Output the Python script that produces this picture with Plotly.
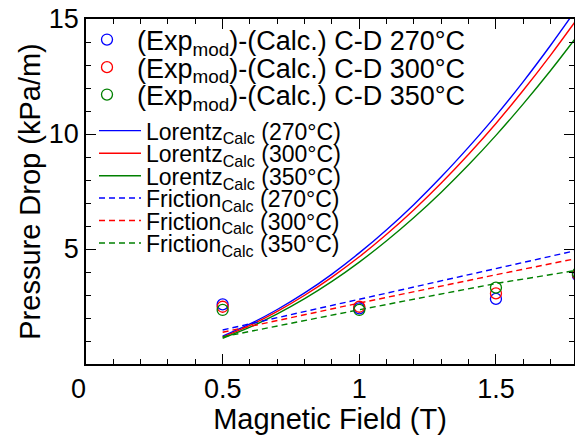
import plotly.graph_objects as go

# ---------------- data ----------------
temps = ["270°C", "300°C", "350°C"]
colors = ["#0000FF", "#FF0000", "#008000"]

# experimental points (Exp_mod - Calc.), C-D
b_exp = [0.5, 1.0, 1.5, 1.8]
exp_270 = [2.59, 2.42, 2.83, 3.85]
exp_300 = [2.49, 2.49, 3.07, 3.90]
exp_350 = [2.35, 2.35, 3.32, 3.95]

# Lorentz (calculated) curves
b_calc = [0.5, 0.6, 0.7, 0.8, 0.9, 1.0, 1.1, 1.2, 1.3, 1.4, 1.5, 1.6, 1.7, 1.8]
lor_270 = [1.21, 1.74, 2.37, 3.09, 3.91, 4.83, 5.84, 6.94, 8.14, 9.43, 10.80, 12.28, 13.86, 15.53]
lor_300 = [1.17, 1.68, 2.29, 2.99, 3.78, 4.66, 5.64, 6.71, 7.87, 9.12, 10.46, 11.90, 13.43, 15.05]
lor_350 = [1.12, 1.60, 2.18, 2.84, 3.59, 4.43, 5.36, 6.37, 7.47, 8.66, 9.94, 11.31, 12.76, 14.30]

# Friction (calculated) lines
b_fric = [0.5, 1.0, 1.5, 1.8]
fric_270 = [1.48, 2.81, 4.15, 4.95]
fric_300 = [1.38, 2.65, 3.88, 4.60]
fric_350 = [1.18, 2.36, 3.50, 4.08]

x_ticks = [0, 0.5, 1, 1.5]
x_ticktext = ["0\u00a0\u00a0", "0.5", "1", "1.5"]
y_ticks = [5, 10, 15]

FONT = "Arial, Liberation Sans, sans-serif"

# ---------------- figure ----------------
W, H = 575, 435
ML, MR, MT, MB = 86, 1, 19, 71
PW, PH = W - ML - MR, H - MT - MB

def px_x(px):
    return (px - ML) / PW

def px_y(py):
    return (H - MB - py) / PH

fig = go.Figure()

legend_layout = {}
leg_idx = [0]

def new_legend(cx_left, cy, size, itemwidth):
    leg_idx[0] += 1
    name = "legend" if leg_idx[0] == 1 else f"legend{leg_idx[0]}"
    legend_layout[name] = dict(
        x=px_x(cx_left), y=px_y(cy), xanchor="left", yanchor="middle",
        bgcolor="rgba(0,0,0,0)", borderwidth=0, itemwidth=itemwidth,
        font=dict(family=FONT, size=size, color="black"),
        itemclick=False, itemdoubleclick=False,
    )
    return name

lor = [lor_270, lor_300, lor_350]
fric = [fric_270, fric_300, fric_350]
exps = [exp_270, exp_300, exp_350]

marker_rows = [40, 67.6, 95]
line_rows = [130.7, 153.3, 175.8, 198.0, 220.6, 243.0]

for i in range(3):
    lg = new_legend(77, marker_rows[i], 27, 50)
    fig.add_trace(go.Scatter(
        x=b_exp, y=exps[i], mode="markers",
        marker=dict(symbol="circle-open", size=11, color=colors[i],
                    line=dict(width=1.3, color=colors[i])),
        name=f"(Exp<sub>mod</sub>)-(Calc.) C-D {temps[i]}",
        legend=lg, cliponaxis=True,
    ))

for i in range(3):
    lg = new_legend(94, line_rows[i], 23, 42)
    fig.add_trace(go.Scatter(
        x=b_calc, y=lor[i], mode="lines", line_shape="spline",
        line=dict(color=colors[i], width=1.4),
        name=f"Lorentz<sub>Calc</sub> ({temps[i]})", legend=lg,
    ))

for i in range(3):
    lg = new_legend(94, line_rows[3 + i], 23, 42)
    fig.add_trace(go.Scatter(
        x=b_fric, y=fric[i], mode="lines",
        line=dict(color=colors[i], width=1.4, dash="6px,4px"),
        name=f"Friction<sub>Calc</sub> ({temps[i]})", legend=lg,
    ))

# markers drawn on top of the lines
fig.data = fig.data[3:] + fig.data[:3]

axis_common = dict(
    showline=True, linecolor="black", linewidth=1.5, mirror="ticks",
    ticks="inside", ticklen=10, tickwidth=1.3, tickcolor="black",
    showgrid=False, zeroline=False, automargin=False,
    tickfont=dict(family=FONT, size=27, color="black"),
)

fig.update_layout(
    width=W, height=H,
    margin=dict(l=ML, r=MR, t=MT, b=MB, autoexpand=False),
    paper_bgcolor="white", plot_bgcolor="white",
    showlegend=True,
    xaxis=dict(
        range=[0, PW / 273.3], tickvals=x_ticks, ticktext=x_ticktext,
        minor=dict(dtick=0.1, tick0=0, ticks="inside", ticklen=5, tickcolor="black", tickwidth=1.3),
        title=dict(text="Magnetic Field (T)", font=dict(family=FONT, size=29, color="black"), standoff=8),
        **axis_common,
    ),
    yaxis=dict(
        range=[0, 15], tickvals=y_ticks,
        minor=dict(dtick=1, tick0=0, ticks="inside", ticklen=5, tickcolor="black", tickwidth=1.3),
        title=dict(text="Pressure Drop (kPa/m)", font=dict(family=FONT, size=29, color="black"), standoff=0),
        **axis_common,
    ),
    **legend_layout,
)

fig.write_html(
    "out.html",
    config={"displayModeBar": False},
    post_script="document.body.style.margin='0';document.body.style.overflow='hidden';",
)
